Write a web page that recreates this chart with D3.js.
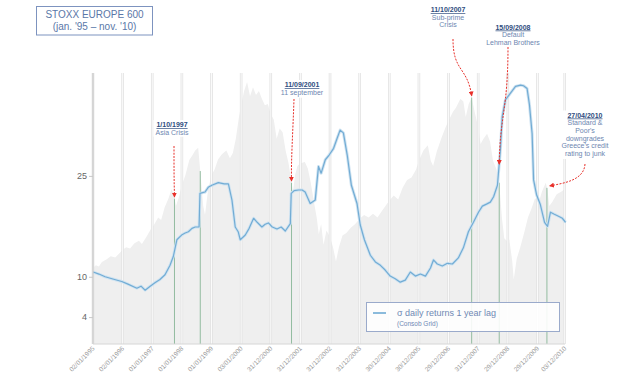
<!DOCTYPE html>
<html>
<head>
<meta charset="utf-8">
<script src="https://cdn.jsdelivr.net/npm/d3@7"></script>
<style>
  html, body { margin: 0; padding: 0; background: #fff; }
  svg { display: block; font-family: "Liberation Sans", Arial, sans-serif; }
</style>
</head>
<body>
<svg id="chart" width="621" height="380"></svg>
<script>
// STOXX Europe 600 index level (grey area), [decimal year, index]
const stoxx600 = [
  [1995.00,118],[1995.10,122],[1995.20,120],[1995.30,127],[1995.45,131],[1995.60,136],[1995.75,134],[1995.90,141],
  [1996.00,146],[1996.12,150],[1996.25,148],[1996.40,156],[1996.55,160],[1996.65,155],[1996.80,166],[1996.95,178],
  [1997.05,184],[1997.20,196],[1997.30,192],[1997.42,212],[1997.55,226],[1997.65,240],[1997.72,232],[1997.80,214],
  [1997.90,228],[1998.00,246],[1998.12,262],[1998.25,285],[1998.35,292],[1998.45,300],[1998.55,304],[1998.62,268],
  [1998.72,214],[1998.78,200],[1998.88,238],[1999.00,262],[1999.10,270],[1999.22,286],[1999.35,294],[1999.50,300],
  [1999.62,288],[1999.72,296],[1999.82,318],[1999.92,350],[2000.00,370],[2000.10,392],[2000.20,406],[2000.30,384],
  [2000.40,398],[2000.50,386],[2000.60,392],[2000.70,380],[2000.80,370],[2000.90,372],[2001.00,356],[2001.10,348],
  [2001.20,318],[2001.30,334],[2001.40,328],[2001.50,300],[2001.60,280],[2001.70,250],[2001.75,236],[2001.82,262],
  [2001.90,276],[2002.00,280],[2002.15,282],[2002.25,272],[2002.35,250],[2002.45,222],[2002.55,196],[2002.62,170],
  [2002.70,186],[2002.78,154],[2002.88,176],[2003.00,166],[2003.10,150],[2003.20,128],[2003.30,150],[2003.42,168],
  [2003.55,172],[2003.70,180],[2003.85,186],[2004.00,194],[2004.15,200],[2004.30,196],[2004.45,202],[2004.60,196],
  [2004.75,206],[2004.90,216],[2005.00,222],[2005.15,230],[2005.30,224],[2005.45,242],[2005.60,254],[2005.75,258],
  [2005.90,270],[2006.00,284],[2006.15,300],[2006.30,308],[2006.40,284],[2006.48,276],[2006.60,298],[2006.75,318],
  [2006.90,336],[2007.00,346],[2007.15,360],[2007.25,366],[2007.40,380],[2007.50,376],[2007.58,352],[2007.68,372],
  [2007.78,382],[2007.88,360],[2008.00,336],[2008.08,310],[2008.18,318],[2008.30,326],[2008.40,314],[2008.50,284],
  [2008.62,270],[2008.71,250],[2008.80,196],[2008.88,164],[2008.96,160],[2009.05,162],[2009.15,128],[2009.20,100],
  [2009.30,132],[2009.42,150],[2009.55,172],[2009.68,196],[2009.80,210],[2009.92,226],[2010.05,220],[2010.15,236],
  [2010.28,250],[2010.34,238],[2010.40,214],[2010.50,220],[2010.65,232],[2010.80,236],[2010.92,240]
];

// sigma of daily returns, 1 year lag (blue line), [decimal year, value]
const sigmaReturns = [
  [1995.01,10.7],[1995.20,10.4],[1995.41,10.0],[1995.64,9.7],[1995.97,9.3],[1996.18,8.9],[1996.48,8.3],[1996.62,8.6],
  [1996.76,8.0],[1996.93,8.6],[1997.09,9.1],[1997.26,9.6],[1997.43,10.3],[1997.60,11.7],[1997.71,13.0],[1997.83,15.5],
  [1997.99,16.2],[1998.11,16.5],[1998.22,16.7],[1998.34,17.2],[1998.45,17.4],[1998.58,17.4],[1998.61,22.4],[1998.78,22.6],
  [1998.89,23.3],[1999.01,23.6],[1999.23,24.0],[1999.43,23.8],[1999.57,23.8],[1999.69,21.4],[1999.80,17.4],[1999.90,16.7],
  [1999.97,15.5],[2000.14,16.2],[2000.27,17.2],[2000.42,18.7],[2000.54,18.1],[2000.70,17.4],[2000.81,17.8],[2000.92,18.0],
  [2001.05,17.4],[2001.21,17.1],[2001.35,17.4],[2001.49,16.8],[2001.66,17.9],[2001.69,22.4],[2001.79,22.8],[2001.94,22.9],
  [2002.06,22.9],[2002.16,22.6],[2002.33,20.9],[2002.50,21.4],[2002.61,26.4],[2002.70,25.4],[2002.84,27.4],[2002.97,28.1],
  [2003.12,29.1],[2003.24,30.6],[2003.34,31.8],[2003.45,31.4],[2003.58,28.1],[2003.72,23.6],[2003.91,20.9],[2004.02,17.7],
  [2004.16,15.5],[2004.36,13.2],[2004.53,12.2],[2004.70,11.7],[2004.86,11.0],[2005.03,10.1],[2005.20,9.7],[2005.37,9.2],
  [2005.54,9.5],[2005.71,10.7],[2005.88,10.1],[2006.05,10.4],[2006.22,10.1],[2006.39,11.3],[2006.49,12.5],[2006.62,11.9],
  [2006.79,11.6],[2006.96,12.0],[2007.13,11.9],[2007.33,12.8],[2007.50,14.3],[2007.67,16.7],[2007.84,18.1],[2008.01,19.6],
  [2008.14,20.5],[2008.28,20.8],[2008.41,21.1],[2008.52,21.9],[2008.65,23.6],[2008.75,28.9],[2008.81,33.8],[2008.92,36.3],
  [2009.09,37.3],[2009.26,38.3],[2009.43,38.5],[2009.53,38.4],[2009.65,38.0],[2009.73,35.6],[2009.82,31.3],[2009.87,24.4],
  [2009.97,22.2],[2010.10,20.7],[2010.24,18.1],[2010.34,17.5],[2010.44,19.6],[2010.57,19.3],[2010.71,19.0],[2010.84,18.7],
  [2010.95,18.1]
];

// market events (vertical markers)
const eventYears = [1997.75, 1998.62, 2001.70, 2007.78, 2008.71, 2010.32];

// axis ticks
const xTickYears = [1995,1996,1997,1998,1999,2000,2001,2002,2003,2004,2005,2006,2007,2008,2009,2010,2010.92];
const xTickLabels = ["02/01/1995","02/01/1996","01/01/1997","01/01/1998","01/01/1999","03/01/2000","31/12/2000",
  "31/12/2001","31/12/2002","31/12/2003","30/12/2004","30/12/2005","29/12/2006","31/12/2007","29/12/2008",
  "29/12/2009","03/12/2010"];
const yTicks = [4, 10, 25];

// ---------------------------------------------------------------
const svg = d3.select("#chart");
const L = 93, R = 565, T = 73, B = 344;

const x = d3.scaleLinear().domain([1995, 2010.93]).range([L, R]);
const ySig = d3.scaleLinear().domain([0, 40.3]).range([B, T]);
const yIdx = d3.scaleLinear().domain([0, 420]).range([B, T]);

const valueAt = (series, yr) => {
  const i = d3.bisector(d => d[0]).left(series, yr);
  const a = series[Math.max(0, i - 1)], b = series[Math.min(series.length - 1, i)];
  if (a === b) return a[1];
  return a[1] + (b[1] - a[1]) * (yr - a[0]) / (b[0] - a[0]);
};

// grey index area
svg.append("path")
  .datum(stoxx600)
  .attr("fill", "#efefef")
  .attr("d", d3.area().x(d => x(d[0])).y0(B).y1(d => yIdx(d[1])));

// vertical year grid
const grid = svg.append("g");
grid.selectAll("line.g1").data(xTickYears).join("line")
  .attr("x1", d => x(d)).attr("x2", d => x(d)).attr("y1", T).attr("y2", B)
  .attr("stroke", "#e2e2e2").attr("stroke-width", 2.6);
grid.selectAll("line.g2").data(xTickYears).join("line")
  .attr("x1", d => x(d)).attr("x2", d => x(d)).attr("y1", T).attr("y2", B)
  .attr("stroke", "#fbfbfb").attr("stroke-width", 1);

// event markers
svg.append("g").selectAll("line").data(eventYears).join("line")
  .attr("x1", d => x(d)).attr("x2", d => x(d))
  .attr("y1", B).attr("y2", d => yIdx(valueAt(stoxx600, d)))
  .attr("stroke", "#93bca0").attr("stroke-width", 1);

// sigma line with soft halo
const line = d3.line().x(d => x(d[0])).y(d => ySig(d[1]));
svg.append("path").datum(sigmaReturns)
  .attr("fill", "none").attr("stroke", "#cfe3f1").attr("stroke-width", 3)
  .attr("stroke-linejoin", "round").attr("d", line);
svg.append("path").datum(sigmaReturns)
  .attr("fill", "none").attr("stroke", "#72acd4").attr("stroke-width", 1.2)
  .attr("stroke-linejoin", "round").attr("d", line);

// y axis
const yAxis = svg.append("g").attr("transform", `translate(${L},0)`)
  .call(d3.axisLeft(ySig).tickValues(yTicks).tickSize(4).tickPadding(2));
yAxis.select(".domain").attr("stroke", "#bdbdbd").attr("d", `M0,${T}V${B}`);
yAxis.selectAll(".tick line").attr("stroke", "#c8c8c8");
yAxis.selectAll(".tick text").attr("fill", "#666").attr("font-size", 9)
  .attr("font-family", "Liberation Sans, Arial, sans-serif");

// x axis
svg.append("line").attr("x1", L).attr("x2", R).attr("y1", B).attr("y2", B)
  .attr("stroke", "#d6d6d6");
svg.append("g").selectAll("text").data(xTickYears).join("text")
  .attr("transform", d => `translate(${x(d) + 2},${B + 5}) rotate(-45)`)
  .attr("text-anchor", "end").attr("font-size", 6.5).attr("fill", "#9a9a9a")
  .text((d, i) => xTickLabels[i]);

// annotations
svg.append("defs").append("marker")
  .attr("id", "ah").attr("viewBox", "0 0 10 10").attr("refX", 8).attr("refY", 5)
  .attr("markerWidth", 5).attr("markerHeight", 5).attr("orient", "auto-start-reverse")
  .append("path").attr("d", "M0,0L10,5L0,10z").attr("fill", "#e8302a");

const notes = [
  { ev: 0, cx: 172, y0: 127, lines: ["1/10/1997", "Asia Crisis"],
    from: [174, 146], c1: [174, 165], c2: [174, 180], tip: "idx" },
  { ev: 2, cx: 302, y0: 87, lines: ["11/09/2001", "11 september"],
    from: [294, 99], c1: [293, 130], c2: [291, 160], tip: "idx" },
  { ev: 3, cx: 448, y0: 12, lines: ["11/10/2007", "Sub-prime", "Crisis"],
    from: [453, 39], c1: [453, 72], c2: [467, 66], tip: "idx" },
  { ev: 4, cx: 513, y0: 29.5, lines: ["15/09/2008", "Default", "Lehman Brothers"],
    from: [508, 47], c1: [508, 110], c2: [500, 115], tip: "sig" },
  { ev: 5, cx: 585, y0: 117.5, lines: ["27/04/2010", "Standard &", "Poor's", "downgrades", "Greece's credit", "rating to junk"],
    from: [585, 164], c1: [584, 180], c2: [565, 183], tip: "side" }
];

notes.forEach(n => {
  const g = svg.append("g");
  const t = g.append("text").attr("text-anchor", "middle").attr("font-size", 7);
  n.lines.forEach((s, i) => {
    t.append("tspan").attr("x", n.cx).attr("y", n.y0 + i * 7.7).text(s)
      .attr("fill", i === 0 ? "#2e4c7e" : "#6d86b0")
      .attr("font-weight", i === 0 ? "bold" : null)
      .style("text-decoration", i === 0 ? "underline" : null);
  });
  const bb = t.node().getBBox();
  g.insert("rect", "text").attr("x", bb.x - 2).attr("y", bb.y - 1)
    .attr("width", bb.width + 4).attr("height", bb.height + 2).attr("fill", "#fff");

  const yr = eventYears[n.ev];
  let tx = x(yr), ty;
  if (n.tip === "idx") ty = yIdx(valueAt(stoxx600, yr)) - 2;
  else if (n.tip === "sig") ty = ySig(valueAt(sigmaReturns, yr));
  else { tx = x(yr) + 3; ty = yIdx(valueAt(stoxx600, yr)) - 2; }
  svg.append("path")
    .attr("d", `M${n.from[0]},${n.from[1]}C${n.c1[0]},${n.c1[1]} ${n.c2[0]},${n.c2[1]} ${tx},${ty}`)
    .attr("fill", "none").attr("stroke", "#e8302a").attr("stroke-width", 1)
    .attr("stroke-dasharray", "2,1.3").attr("marker-end", "url(#ah)");
});

// title box
const title = svg.append("g");
title.append("rect").attr("x", 36.5).attr("y", 6.5).attr("width", 116).attr("height", 28.5)
  .attr("fill", "#fff").attr("stroke", "#7d93bf").attr("stroke-width", 1);
title.append("text").attr("x", 94.5).attr("y", 17.5).attr("text-anchor", "middle")
  .attr("font-size", 10).attr("fill", "#5a77a8").text("STOXX EUROPE 600");
title.append("text").attr("x", 94.5).attr("y", 29.5).attr("text-anchor", "middle")
  .attr("font-size", 10).attr("fill", "#5a77a8").text("(jan. '95 – nov. '10)");

// legend
const lg = svg.append("g");
lg.append("rect").attr("x", 366.5).attr("y", 302.5).attr("width", 193).attr("height", 29)
  .attr("fill", "#fff").attr("fill-opacity", 0.88).attr("stroke", "#9aaacb");
lg.append("line").attr("x1", 373).attr("x2", 386).attr("y1", 313).attr("y2", 313)
  .attr("stroke", "#6eaad3").attr("stroke-width", 1.6);
lg.append("text").attr("x", 397).attr("y", 316).attr("font-size", 9).attr("fill", "#7089b4")
  .text("σ daily returns 1 year lag");
lg.append("text").attr("x", 397).attr("y", 326).attr("font-size", 6.5).attr("fill", "#7089b4")
  .text("(Consob Grid)");
</script>
</body>
</html>
